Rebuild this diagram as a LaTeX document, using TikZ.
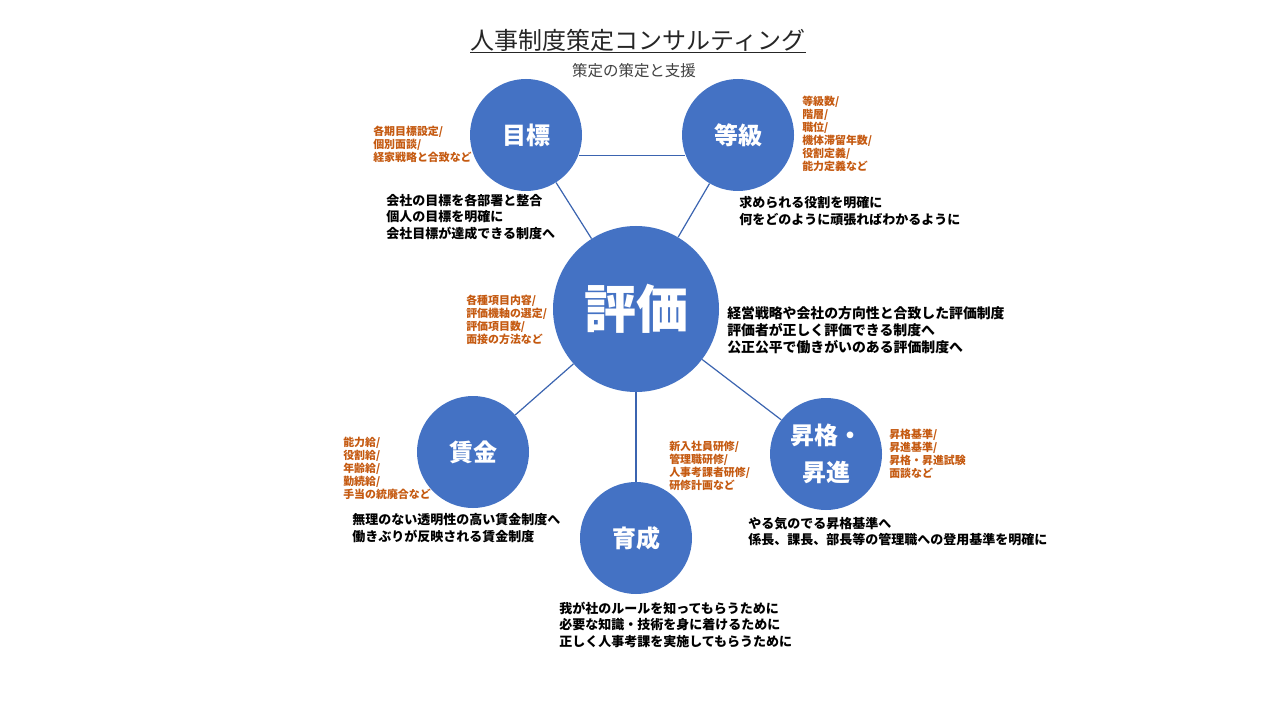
\documentclass[tikz,border=0pt]{standalone}
\usepackage{fontspec}
\setmainfont{Noto Sans CJK JP}
\definecolor{ballblue}{HTML}{4472C4}
\definecolor{linkblue}{HTML}{3B64B0}
\definecolor{memoorange}{HTML}{C55A11}
\definecolor{subgray}{HTML}{404040}

\begin{document}
\begin{tikzpicture}[x=0.75pt,y=-0.75pt,
	ball/.style={circle,fill=ballblue,text=white,inner sep=0pt,minimum size=84pt,font=\bfseries\fontsize{18}{27.75}\selectfont},
	memo/.style={anchor=west,align=left,inner sep=0pt,text=memoorange,font=\bfseries\fontsize{8.2}{9.7}\selectfont},
	aim/.style={anchor=west,align=left,inner sep=0pt,font=\bfseries\fontsize{9.75}{12.4}\selectfont},
	link/.style={draw=linkblue,line width=0.9pt}]
	\useasboundingbox [fill=white] (0,0) rectangle (1280,720);
	% title
	\node [inner sep=0pt,text=black!85,font=\fontsize{18}{22}\selectfont] (title) at (638,40) {人事制度策定コンサルティング};
	\draw [black!85,line width=0.8pt] ([yshift=-1pt]title.south west) -- ([yshift=-1pt]title.south east);
	\node [inner sep=0pt,text=subgray,font=\fontsize{11.6}{14}\selectfont] (subtitle) at (634,71) {策定の策定と支援};
	% circles
	\node [ball] (mokuhyo) at (526,135) {目標};
	\node [ball] (tokyu) at (738,135) {等級};
	\node [ball,minimum size=124.5pt,font=\bfseries\fontsize{39}{44}\selectfont] (hyoka) at (636,309) {評価};
	\node [ball] (chingin) at (473,452) {賃金};
	\node [ball] (ikusei) at (636,538) {育成};
	\node [ball,align=center] (shokaku) at (826,454) {昇格・\\昇進};
	% links
	\draw [link] (mokuhyo.-21) -- (tokyu.201);
	\draw [link] (mokuhyo) -- (hyoka);
	\draw [link] (tokyu) -- (hyoka);
	\draw [link] (hyoka) -- (chingin);
	\draw [link] (hyoka) -- (ikusei);
	\draw [link] (hyoka) -- (shokaku);
	% orange notes
	\node [memo] (mokuhyo memo) at (373,144) {各期目標設定/\\個別面談/\\経家戦略と合致など};
	\node [memo] (tokyu memo) at (802,134) {等級数/\\階層/\\職位/\\機体滞留年数/\\役割定義/\\能力定義など};
	\node [memo] (hyoka memo) at (466,319.5) {各種項目内容/\\評価機軸の選定/\\評価項目数/\\面接の方法など};
	\node [memo] (chingin memo) at (343,468) {能力給/\\役割給/\\年齢給/\\勤続給/\\手当の統廃合など};
	\node [memo] (ikusei memo) at (669,465.5) {新入社員研修/\\管理職研修/\\人事考課者研修/\\研修計画など};
	\node [memo] (shokaku memo) at (889,454) {昇格基準/\\昇進基準/\\昇格・昇進試験\\面談など};
	% black aims
	\node [aim] (mokuhyo aim) at (386,217) {会社の目標を各部署と整合\\個人の目標を明確に\\会社目標が達成できる制度へ};
	\node [aim] (tokyu aim) at (739,211) {求められる役割を明確に\\何をどのように頑張ればわかるように};
	\node [aim,font=\bfseries\fontsize{10.4}{12.75}\selectfont] (hyoka aim) at (727,330) {経営戦略や会社の方向性と合致した評価制度\\評価者が正しく評価できる制度へ\\公正公平で働きがいのある評価制度へ};
	\node [aim] (chingin aim) at (352,528) {無理のない透明性の高い賃金制度へ\\働きぶりが反映される賃金制度};
	\node [aim] (shokaku aim) at (748,531.5) {やる気のでる昇格基準へ\\係長、課長、部長等の管理職への登用基準を明確に};
	\node [aim] (ikusei aim) at (559,624.5) {我が社のルールを知ってもらうために\\必要な知識・技術を身に着けるために\\正しく人事考課を実施してもらうために};
\end{tikzpicture}
\end{document}
